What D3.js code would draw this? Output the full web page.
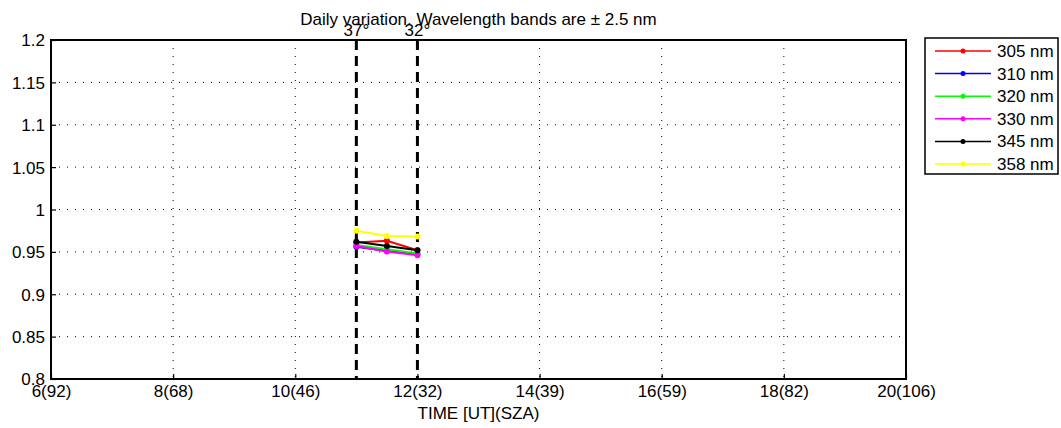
<!DOCTYPE html>
<html><head><meta charset="utf-8">
<script src="https://cdn.jsdelivr.net/npm/d3@7"></script>
<style>body{margin:0;background:#fff;} svg{display:block;font-family:"Liberation Sans",Arial,sans-serif;}</style>
</head><body><svg id="c" width="1061" height="428"></svg>
<script>
const xTicks = [6, 8, 10, 12, 14, 16, 18, 20];
const xTickLabels = ["6(92)", "8(68)", "10(46)", "12(32)", "14(39)", "16(59)", "18(82)", "20(106)"];
const yTicks = [0.8, 0.85, 0.9, 0.95, 1, 1.05, 1.1, 1.15, 1.2];
const times = [11, 11.5, 12];
const seriesNames = ["305 nm", "310 nm", "320 nm", "330 nm", "345 nm", "358 nm"];
const seriesColors = ["#ff0000", "#0000ff", "#00ff00", "#ff00ff", "#000000", "#ffff00"];
const v305 = [0.961, 0.963, 0.952];
const v310 = [0.956, 0.951, 0.9475];
const v320 = [0.958, 0.953, 0.948];
const v330 = [0.957, 0.9505, 0.946];
const v345 = [0.962, 0.957, 0.952];
const v358 = [0.975, 0.9687, 0.968];
const markTimes = [11, 12];
const markLabels = ["37°", "32°"];

const series = [v305, v310, v320, v330, v345, v358];
const FS = 17;
const svg = d3.select("#c");
const L = 51, R = 906, T = 40, B = 379;
const x = d3.scaleLinear().domain([6, 20]).range([L, R]);
const y = d3.scaleLinear().domain([0.8, 1.2]).range([B, T]);

// grid
svg.append("g").selectAll("line").data(yTicks.slice(1, -1)).join("line")
  .attr("x1", L).attr("x2", R).attr("y1", d => y(d)).attr("y2", d => y(d))
  .attr("stroke", "#000").attr("stroke-width", 1).attr("stroke-dasharray", "1,7");
svg.append("g").selectAll("line").data(xTicks.slice(1, -1)).join("line")
  .attr("y1", T).attr("y2", B).attr("x1", d => x(d)).attr("x2", d => x(d))
  .attr("stroke", "#000").attr("stroke-width", 1).attr("stroke-dasharray", "1,7");

// axes
const xAxis = d3.axisBottom(x).tickValues(xTicks).tickFormat((d, i) => xTickLabels[i]).tickSizeInner(-5).tickSizeOuter(0).tickPadding(6);
const gx = svg.append("g").attr("transform", `translate(0,${B})`).call(xAxis);
const yAxis = d3.axisLeft(y).tickValues(yTicks).tickFormat(d3.format("~g")).tickSizeInner(-5).tickSizeOuter(0).tickPadding(6);
const gy = svg.append("g").attr("transform", `translate(${L},0)`).call(yAxis);
[gx, gy].forEach(g => {
  g.select(".domain").remove();
  g.selectAll("line").attr("stroke", "#000").attr("stroke-width", 1.2);
  g.selectAll("text").attr("font-size", FS).attr("fill", "#000").attr("font-family", "Liberation Sans, Arial, sans-serif");
});
gx.selectAll("text").attr("dy", "0.71em");
gy.selectAll("text").attr("dy", "0.35em");

// frame
svg.append("rect").attr("x", L).attr("y", T).attr("width", R - L).attr("height", B - T)
  .attr("fill", "none").attr("stroke", "#000").attr("stroke-width", 2);

// dashed markers
svg.append("g").selectAll("line").data(markTimes).join("line")
  .attr("x1", d => x(d)).attr("x2", d => x(d)).attr("y1", T).attr("y2", B)
  .attr("stroke", "#000").attr("stroke-width", 3).attr("stroke-dasharray", "10,6");
svg.append("g").selectAll("text").data(markTimes).join("text")
  .attr("x", d => x(d)).attr("y", T - 4).attr("text-anchor", "middle")
  .attr("font-size", FS).text((d, i) => markLabels[i]);

// series
const line = d3.line().x((d, i) => x(times[i])).y(d => y(d));
series.forEach((s, k) => {
  const g = svg.append("g");
  g.append("path").datum(s).attr("d", line).attr("fill", "none")
    .attr("stroke", seriesColors[k]).attr("stroke-width", 2);
  g.selectAll("circle").data(s).join("circle")
    .attr("cx", (d, i) => x(times[i])).attr("cy", d => y(d)).attr("r", 3)
    .attr("fill", seriesColors[k]);
});

// title & label
svg.append("text").attr("x", (L + R) / 2).attr("y", 25).attr("text-anchor", "middle")
  .attr("font-size", FS).text("Daily variation. Wavelength bands are ± 2.5 nm");
svg.append("text").attr("x", (L + R) / 2).attr("y", 419).attr("text-anchor", "middle")
  .attr("font-size", FS).text("TIME [UT](SZA)");

// legend
const lg = svg.append("g");
lg.append("rect").attr("x", 925).attr("y", 38).attr("width", 133).attr("height", 136)
  .attr("fill", "#fff").attr("stroke", "#000").attr("stroke-width", 1.5);
seriesNames.forEach((n, k) => {
  const yy = 51 + k * 22.6;
  lg.append("line").attr("x1", 935).attr("x2", 991).attr("y1", yy).attr("y2", yy)
    .attr("stroke", seriesColors[k]).attr("stroke-width", 1.5);
  lg.append("circle").attr("cx", 963).attr("cy", yy).attr("r", 2.5).attr("fill", seriesColors[k]);
  lg.append("text").attr("x", 997).attr("y", yy).attr("dy", "0.35em").attr("font-size", FS).text(n);
});
</script></body></html>
